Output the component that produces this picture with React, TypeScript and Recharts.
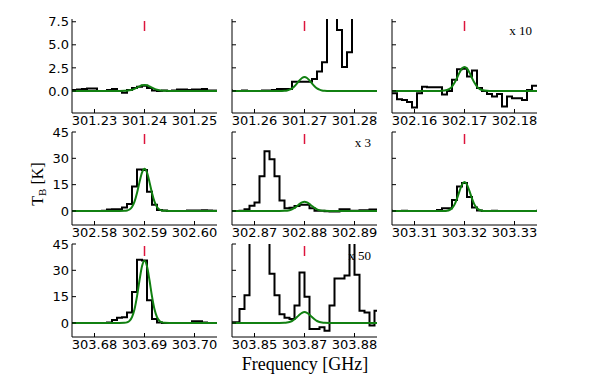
import React from "react";
import { LineChart, Line, XAxis, YAxis, ReferenceLine } from "recharts";

// channel centres, MHz offset from the line frequency
const GRID_A = [-15, -14, -13, -12, -11, -10, -9, -8, -7, -6, -5, -4, -3, -2, -1, 0, 1, 2, 3, 4, 5, 6, 7, 8, 9, 10, 11, 12, 13, 14, 15];
const GRID_B = [-15.5, -14.5, -13.5, -12.5, -11.5, -10.5, -9.5, -8.5, -7.5, -6.5, -5.5, -4.5, -3.5, -2.5, -1.5, -0.5, 0.5, 1.5, 2.5, 3.5, 4.5, 5.5, 6.5, 7.5, 8.5, 9.5, 10.5, 11.5, 12.5, 13.5, 14.5, 15.5];
const FIT_X = [-14.5, -5, -4, -3.5, -3, -2.5, -2, -1.5, -1, -0.5, 0, 0.5, 1, 1.5, 2, 2.5, 3, 3.5, 4, 5, 14.5];

const X_TICKS = [-10, 0, 10];
const Y_TICKS_TOP = [0, 2.5, 5, 7.5];
const Y_LABELS_TOP = ["0.0", "2.5", "5.0", "7.5"];
const Y_TICKS_LOW = [0, 15, 30, 45];
const Y_LABELS_LOW = ["0", "15", "30", "45"];

const P1_LABELS = ["301.23", "301.24", "301.25"];
const P2_LABELS = ["301.26", "301.27", "301.28"];
const P3_LABELS = ["302.16", "302.17", "302.18"];
const P4_LABELS = ["302.58", "302.59", "302.60"];
const P5_LABELS = ["302.87", "302.88", "302.89"];
const P6_LABELS = ["303.31", "303.32", "303.33"];
const P7_LABELS = ["303.68", "303.69", "303.70"];
const P8_LABELS = ["303.85", "303.87", "303.88"];

const P1_OBS = [0.1, 0.1, 0.15, 0.2, 0.25, 0.25, 0, 0, 0.1, 0.2, 0, -0.2, 0.1, 0.3, 0.45, 0.55, 0.3, 0.05, 0, 0.05, 0, 0.05, 0.15, 0.15, 0.1, 0.15, 0.15, 0.2, 0.05, 0.05, 0];
const P1_FIT = [0, 0, 0.01, 0.02, 0.06, 0.12, 0.22, 0.35, 0.49, 0.61, 0.65, 0.61, 0.49, 0.35, 0.22, 0.12, 0.06, 0.02, 0.01, 0, 0];

const P2_OBS = [0.05, 0, 0, 0.05, 0, 0, 0, 0.05, 0.05, 0.1, 0.2, 0.2, 0.2, 1.0, 1.0, 1.0, 1.0, 1.3, 2.1, 3.1, 12, 12, 6.6, 2.6, 4.2, 12, 12, 12, 12, 12, 12];
const P2_FIT = [0, 0, 0.02, 0.05, 0.13, 0.27, 0.5, 0.81, 1.14, 1.4, 1.5, 1.4, 1.14, 0.81, 0.5, 0.27, 0.13, 0.05, 0.02, 0, 0];

const P3_OBS = [-0.25, -0.25, -0.9, -1.0, -1.2, -1.8, -0.25, 0.45, 0.4, 0.4, 0.4, -0.4, 0, 1.2, 2.35, 2.4, 1.55, 2.2, 0.3, 0, -0.35, -0.6, -0.35, -1.7, -0.6, -0.8, -0.8, -1.0, 0.1, 0.55, 0.55];
const P3_FIT = [0, 0, 0.03, 0.09, 0.22, 0.47, 0.87, 1.4, 1.98, 2.43, 2.6, 2.43, 1.98, 1.4, 0.87, 0.47, 0.22, 0.09, 0.03, 0, 0];

const P4_OBS = [0, 0, 0, 0, 0, 0, 0, 0.1, 0.8, 1.0, 1.0, 2.0, 4.0, 14, 23.7, 23.3, 11, 3.5, 0.5, 0.2, 0, 0, 0, 0, 0.2, 0.3, 0.3, 0.4, 0.3, 0.1, 0];
const P4_FIT = [0, 0, 0.06, 0.24, 0.8, 2.26, 5.28, 10.25, 16.44, 21.84, 24, 21.84, 16.44, 10.25, 5.28, 2.26, 0.8, 0.24, 0.06, 0, 0];

const P5_OBS = [0, 0, 0, 0.1, 1.0, 3.0, 4.8, 19.8, 34, 29.4, 19.8, 6.0, 1.5, 1.8, 2.8, 3.5, 3.5, 1.5, 0.1, 0.1, -0.2, -0.3, -0.3, 1.0, 1.0, 0.1, 0.1, 0.4, 0.4, 0.8, 0.8, 0.8];
const P5_FIT = [0, 0, 0.06, 0.18, 0.44, 0.94, 1.74, 2.8, 3.95, 4.86, 5.2, 4.86, 3.95, 2.8, 1.74, 0.94, 0.44, 0.18, 0.06, 0, 0];

const P6_OBS = [0.1, 0, 0, 0.1, 0, 0, 0, 0, 0, 0, 0.5, 1.5, 1.5, 6.3, 14, 16, 8, 2, 0.3, 0, 0, 0.1, 0, 0, 0, 0, 0, 0, 0, 0, 0.1];
const P6_FIT = [0, 0, 0.04, 0.16, 0.55, 1.55, 3.63, 7.05, 11.3, 15.02, 16.5, 15.02, 11.3, 7.05, 3.63, 1.55, 0.55, 0.16, 0.04, 0, 0];

const P7_OBS = [0, 0, 0, 0, 0, 0, 0, 0, 0.3, 1.7, 3.0, 3.3, 6, 17.7, 36, 35.6, 12.9, 2.3, 0.3, 0, 0, 0, 0, 0, 0, 1.0, 1.0, 0.3, 0, 0, 0];
const P7_FIT = [0, 0, 0.09, 0.35, 1.18, 3.34, 7.81, 15.16, 24.32, 32.31, 35.5, 32.31, 24.32, 15.16, 7.81, 3.34, 1.18, 0.35, 0.09, 0, 0];

const P8_OBS = [0.4, 0.4, 0.4, 8, 15.8, 60, 60, 60, 60, 28, 15.8, 5, 2.9, 2.3, 10, 28.7, 15, -3.5, -3.5, -2.5, -4.4, 10, 25.4, 25.4, 27, 60, 27.5, 7, 6, -1.5, 7, 7];
const P8_FIT = [0, 0, 0.07, 0.22, 0.53, 1.12, 2.07, 3.34, 4.71, 5.79, 6.2, 5.79, 4.71, 3.34, 2.07, 1.12, 0.53, 0.22, 0.07, 0, 0];

// layout
const COL_LEFT = [72, 232, 392];
const ROW_TOP = [19, 132, 244];
const ROW_H = [94, 93, 93];
const PW = 145;
const AX_W = 40; // room for y tick labels
const MT = 10;
const MR = 10;
const XA_H = 22;
const X_DOMAIN: [number, number] = [-14.5, 14.5];
const FRAME = { stroke: "#000", strokeWidth: 1 };
const TICK_FONT = "DejaVu Sans, sans-serif";
const SERIF = "Liberation Serif, Times New Roman, serif";

const BottomTick = (p: any) => {
  const i = X_TICKS.indexOf(p.payload.value);
  return (
    <g>
      <line x1={p.x} x2={p.x} y1={p.y} y2={p.y - 4} stroke="#000" />
      <text x={p.x} y={p.y + 3} dy="0.71em" textAnchor="middle" fontSize={13} fontFamily={TICK_FONT} fill="#000">
        {p.labels[i]}
      </text>
    </g>
  );
};

const TopTick = (p: any) => <line x1={p.x} x2={p.x} y1={p.y} y2={p.y + 4} stroke="#000" />;

const LeftTick = (p: any) => {
  const i = p.ticks.indexOf(p.payload.value);
  return (
    <g>
      <line x1={p.x} x2={p.x + 4} y1={p.y} y2={p.y} stroke="#000" />
      {p.show && (
        <text x={p.x - 3} y={p.y} dy="0.36em" textAnchor="end" fontSize={13} fontFamily={TICK_FONT} fill="#000">
          {p.labels[i]}
        </text>
      )}
    </g>
  );
};

const RightTick = (p: any) => <line x1={p.x} x2={p.x - 4} y1={p.y} y2={p.y} stroke="#000" />;

const marker = (p: any) => {
  const y0 = Math.min(p.y1, p.y2);
  return <line x1={p.x1} x2={p.x1} y1={y0 + 2} y2={y0 + 12} stroke="#dc143c" strokeWidth={1.5} />;
};

type PanelProps = {
  grid: number[];
  obs: number[];
  fit: number[];
  xLabels: string[];
  row: number;
  col: number;
};

const Panel: React.FC<PanelProps> = ({ grid, obs, fit, xLabels, row, col }) => {
  const obsData = grid.map((x, i) => ({ x, y: obs[i] }));
  const fitData = FIT_X.map((x, i) => ({ x, y: fit[i] }));
  const yDomain: [number, number] = row === 0 ? [-2.4, 7.8] : [-8, 45];
  const yTicks = row === 0 ? Y_TICKS_TOP : Y_TICKS_LOW;
  const yLabels = row === 0 ? Y_LABELS_TOP : Y_LABELS_LOW;
  const ph = ROW_H[row];
  const left = COL_LEFT[col];
  const top = ROW_TOP[row];

  return (
    <div style={{ position: "absolute", left: left - AX_W, top: top - MT }}>
      <LineChart width={AX_W + PW + MR} height={MT + ph + XA_H} margin={{ top: MT, right: MR, bottom: 0, left: 0 }}>
        <XAxis
          xAxisId="b"
          type="number"
          dataKey="x"
          domain={X_DOMAIN}
          allowDataOverflow
          ticks={X_TICKS}
          interval={0}
          height={XA_H}
          tickSize={0}
          tickMargin={0}
          tickLine={false}
          axisLine={FRAME}
          tick={(p: any) => <BottomTick {...p} labels={xLabels} />}
        />
        <XAxis
          xAxisId="t"
          orientation="top"
          type="number"
          dataKey="x"
          domain={X_DOMAIN}
          allowDataOverflow
          ticks={X_TICKS}
          interval={0}
          height={0}
          tickSize={0}
          tickMargin={0}
          tickLine={false}
          axisLine={FRAME}
          tick={(p: any) => <TopTick {...p} />}
        />
        <YAxis
          yAxisId="l"
          type="number"
          domain={yDomain}
          allowDataOverflow
          ticks={yTicks}
          interval={0}
          width={AX_W}
          tickSize={0}
          tickMargin={0}
          tickLine={false}
          axisLine={FRAME}
          tick={(p: any) => <LeftTick {...p} ticks={yTicks} labels={yLabels} show={col === 0} />}
        />
        <YAxis
          yAxisId="r"
          orientation="right"
          type="number"
          domain={yDomain}
          allowDataOverflow
          ticks={yTicks}
          interval={0}
          width={0}
          tickSize={0}
          tickMargin={0}
          tickLine={false}
          axisLine={FRAME}
          tick={(p: any) => <RightTick {...p} />}
        />
        <ReferenceLine xAxisId="b" yAxisId="l" x={0} stroke="#dc143c" shape={marker} />
        <Line
          xAxisId="b"
          yAxisId="l"
          data={obsData}
          dataKey="y"
          type="step"
          stroke="#000"
          strokeWidth={2}
          dot={false}
          activeDot={false}
          isAnimationActive={false}
        />
        <Line
          xAxisId="b"
          yAxisId="l"
          data={fitData}
          dataKey="y"
          type="monotone"
          stroke="#118011"
          strokeWidth={2}
          dot={false}
          activeDot={false}
          isAnimationActive={false}
        />
      </LineChart>
    </div>
  );
};

export default function App() {
  return (
    <div style={{ position: "absolute", left: 0, top: 0, width: 598, height: 377, background: "#fff" }}>
      <svg width={598} height={377} style={{ position: "absolute", left: 0, top: 0 }}>
        <text x={532} y={35} textAnchor="end" fontSize={13} fontFamily={SERIF}>x 10</text>
        <text x={371} y={147} textAnchor="end" fontSize={13} fontFamily={SERIF}>x 3</text>
        <text x={371} y={260} textAnchor="end" fontSize={13} fontFamily={SERIF}>x 50</text>
        <text x={305} y={370} textAnchor="middle" fontSize={18} fontFamily={SERIF}>Frequency [GHz]</text>
        <text x={37} y={184} transform="rotate(-90 37 184)" textAnchor="middle" dy="0.35em" fontSize={16} fontFamily={SERIF}>
          T<tspan dy={3} fontSize={11}>B</tspan>
          <tspan dy={-3}> [K]</tspan>
        </text>
      </svg>
      <Panel grid={GRID_A} obs={P1_OBS} fit={P1_FIT} xLabels={P1_LABELS} row={0} col={0} />
      <Panel grid={GRID_A} obs={P2_OBS} fit={P2_FIT} xLabels={P2_LABELS} row={0} col={1} />
      <Panel grid={GRID_A} obs={P3_OBS} fit={P3_FIT} xLabels={P3_LABELS} row={0} col={2} />
      <Panel grid={GRID_A} obs={P4_OBS} fit={P4_FIT} xLabels={P4_LABELS} row={1} col={0} />
      <Panel grid={GRID_B} obs={P5_OBS} fit={P5_FIT} xLabels={P5_LABELS} row={1} col={1} />
      <Panel grid={GRID_A} obs={P6_OBS} fit={P6_FIT} xLabels={P6_LABELS} row={1} col={2} />
      <Panel grid={GRID_A} obs={P7_OBS} fit={P7_FIT} xLabels={P7_LABELS} row={2} col={0} />
      <Panel grid={GRID_B} obs={P8_OBS} fit={P8_FIT} xLabels={P8_LABELS} row={2} col={1} />
    </div>
  );
}
